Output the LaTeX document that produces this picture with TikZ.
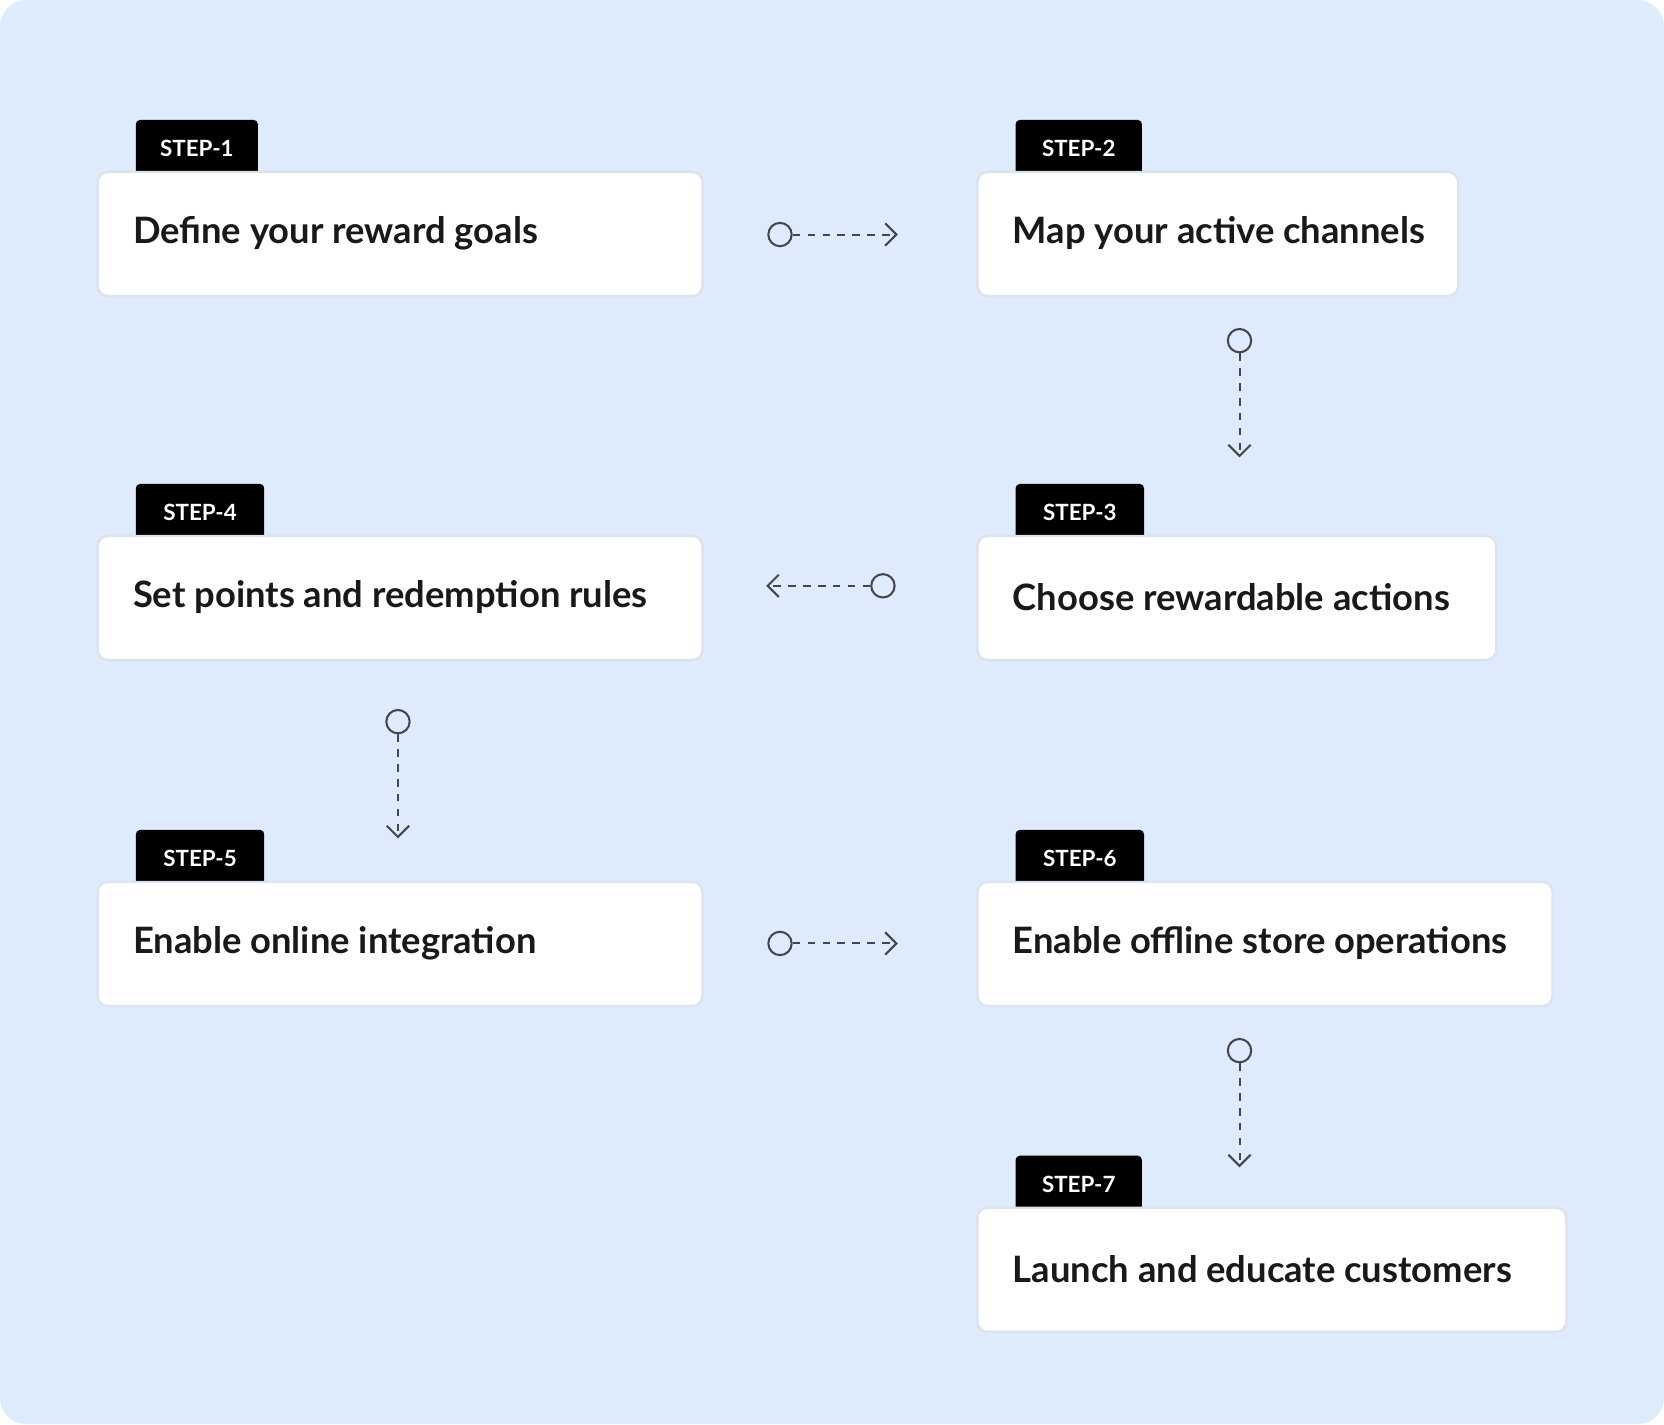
\documentclass[tikz,border=0pt]{standalone}
\usepackage{fontspec}
\setmainfont{Lato}
\usetikzlibrary{arrows.meta}
\definecolor{bg}{HTML}{DDEBFC}
\definecolor{bd}{HTML}{DCE3EC}
\definecolor{ln}{HTML}{44464B}
\begin{document}
\begin{tikzpicture}[x=0.02cm,y=-0.02cm,
 box/.style={draw=bd,line width=1.2pt,fill=white,rounded corners=10*0.02cm},
 tag/.style={fill=black,rounded corners=4*0.02cm},
 ttxt/.style={font=\fontsize{12}{14}\selectfont\bfseries,text=white,anchor=center},
 mtxt/.style={font=\fontsize{19.5}{22}\selectfont\bfseries,text=black!90,anchor=west},
 dot/.style={circle,draw=ln,line width=1.1pt,minimum size=22*0.02cm,inner sep=0pt},
 con/.style={draw=ln,line width=1.1pt,dash pattern=on 4pt off 4pt,-{Straight Barb[length=6pt,width=12pt,line width=1.1pt]}}]
\useasboundingbox (0,0) rectangle (1568,1342);
\fill[bg,rounded corners=25*0.02cm] (0,0) rectangle (1568,1342);
% boxes
\foreach \n/\xa/\xb/\ya/\tw/\t/\s in {
 1/92/662/162/115/Define your reward goals/STEP-1,
 2/921/1374/162/119/Map your active channels/STEP-2,
 3/921/1410/505/121/Choose rewardable actions/STEP-3,
 4/92/662/505/121/Set points and redemption rules/STEP-4,
 5/92/662/831/121/Enable online integration/STEP-5,
 6/921/1463/831/121/Enable offline store operations/STEP-6,
 7/921/1476/1138/119/Launch and educate customers/STEP-7}{
 \path[tag] (\xa+36,\ya-49) rectangle ++(\tw,55);
 \node[ttxt] (t\n) at (\xa+36+\tw/2,\ya-22) {\s};
 \path[box] (\xa,\ya) rectangle (\xb,\ya+117);
 \node[mtxt,inner sep=0pt] (b\n) at (\xa+33,\ya+58) {\t};
}
% connectors
\node[dot] (c1) at (735,221) {}; \coordinate (e1) at (846,221);
\node[dot] (c2) at (1168,321) {}; \coordinate (e2) at (1168,431);
\node[dot] (c3) at (832,552) {}; \coordinate (e3) at (722,552);
\node[dot] (c4) at (375,680) {}; \coordinate (e4) at (375,790);
\node[dot] (c5) at (735,889) {}; \coordinate (e5) at (846,889);
\node[dot] (c6) at (1168,990) {}; \coordinate (e6) at (1168,1100);
\foreach \i in {1,...,6}{\draw[con] (c\i) -- (e\i);}
\end{tikzpicture}
\end{document}
